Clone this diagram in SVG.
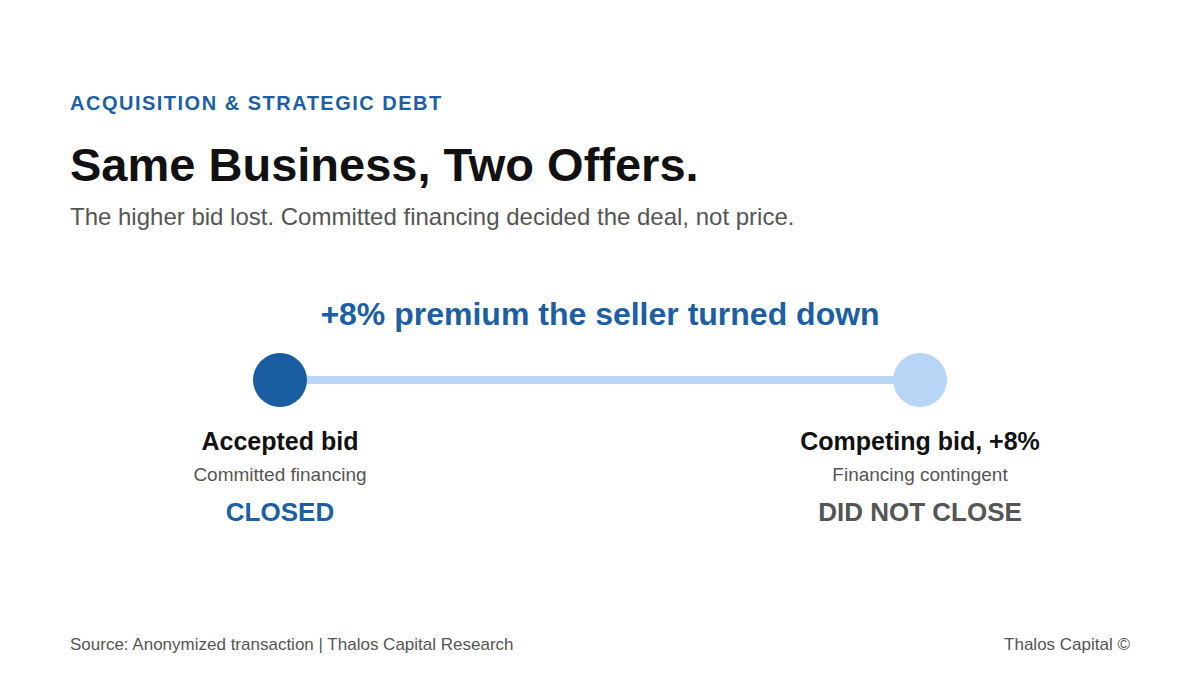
<svg xmlns="http://www.w3.org/2000/svg" width="1200" height="675" viewBox="0 0 1200 675">
<style>
text{font-family:"Liberation Sans",Arial,sans-serif}
.eyebrow{font-size:20px;font-weight:bold;fill:#1c5fa3;letter-spacing:1.5px}
.title{font-size:47px;font-weight:bold;fill:#111}
.sub{font-size:24px;fill:#555}
.headline{font-size:32px;font-weight:bold;fill:#1c5fa3}
.lbl{font-size:25px;font-weight:bold;fill:#111;text-anchor:middle}
.desc{font-size:19px;fill:#555;text-anchor:middle}
.status{font-size:26px;font-weight:bold;text-anchor:middle}
.foot{font-size:17px;fill:#555}
</style>
<rect width="1200" height="675" fill="#fff"/>
<text class="eyebrow" x="70" y="110">ACQUISITION &amp; STRATEGIC DEBT</text>
<text class="title" x="70" y="181">Same Business, Two Offers.</text>
<text class="sub" x="70" y="225">The higher bid lost. Committed financing decided the deal, not price.</text>
<text class="headline" x="600" y="325" text-anchor="middle">+8% premium the seller turned down</text>
<g id="connectors">
<line x1="280" y1="380" x2="920" y2="380" stroke="#b8d5f5" stroke-width="8"/>
</g>
<g id="accepted">
<circle cx="280" cy="380" r="27" fill="#1a5ca0"/>
<text class="lbl" x="280" y="450">Accepted bid</text>
<text class="desc" x="280" y="481">Committed financing</text>
<text class="status" x="280" y="521" fill="#1c5fa3">CLOSED</text>
</g>
<g id="competing">
<circle cx="920" cy="380" r="27" fill="#b8d5f5"/>
<text class="lbl" x="920" y="450">Competing bid, +8%</text>
<text class="desc" x="920" y="481">Financing contingent</text>
<text class="status" x="920" y="521" fill="#555">DID NOT CLOSE</text>
</g>
<text class="foot" x="70" y="650">Source: Anonymized transaction | Thalos Capital Research</text>
<text class="foot" x="1130" y="650" text-anchor="end">Thalos Capital ©</text>
</svg>
